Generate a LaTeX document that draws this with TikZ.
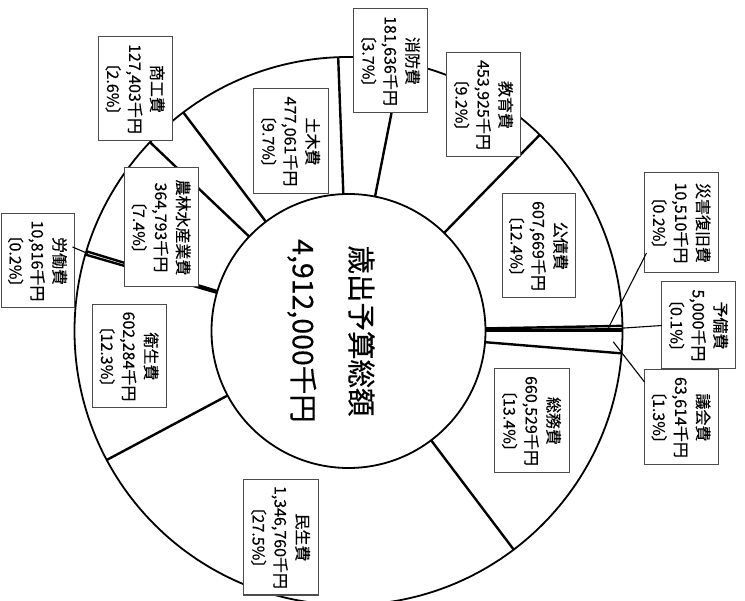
\documentclass[tikz,border=0pt]{standalone}
\usepackage{fontspec}
\setmainfont{Noto Sans CJK JP}[RawFeature={+palt,embolden=0.4}]
\begin{document}
\begin{tikzpicture}[x=1pt,y=-1pt,
  spoke/.style={line width=2.4pt,black},
  ring/.style={line width=1.8pt,black},
  lbl/.style={draw=black!70,line width=1pt,fill=white,rotate=-90,inner sep=0pt,
    align=center,font=\fontsize{16}{22}\selectfont},
  leader/.style={line width=1.1pt,black},
  total/.style={rotate=-90,inner sep=0pt,align=center,font=\fontsize{28.5}{58}\selectfont}]
\useasboundingbox (0,0) rectangle (745,601);
\clip (0,0) rectangle (745,601);
\coordinate (O) at (348.5,331);
% spokes
\foreach \a in {0,4.68,52.92,151.92,196.2,196.92,223.56,232.92,267.84,281.16,314.28,358.92,359.64}
  \draw[spoke] ([shift={(\a:137)}]O) -- ([shift={(\a:274)}]O);
% rings
\node[circle,draw,ring,minimum size=548pt,inner sep=0pt] (outer) at (O) {};
\node[circle,draw,ring,minimum size=274pt,inner sep=0pt] (inner) at (O) {};
\node[total] (tot) at (331,331) {歳出予算総額\\4,912,000千円};
% labels
\node[lbl,minimum width=104pt,minimum height=74pt] (shoko) at (135,89) {商工費\\127,403千円\\〔2.6\%〕};
\node[lbl,minimum width=105pt,minimum height=75pt] (doboku) at (290.5,141.5) {土木費\\477,061千円\\〔9.7\%〕};
\node[lbl,minimum width=104pt,minimum height=74pt] (shobo) at (390.5,61) {消防費\\181,636千円\\〔3.7\%〕};
\node[lbl,minimum width=104pt,minimum height=74pt] (kyoiku) at (483.5,105) {教育費\\453,925千円\\〔9.2\%〕};
\node[lbl,minimum width=104pt,minimum height=73pt] (kosai) at (538.5,246) {公債費\\607,669千円\\〔12.4\%〕};
\node[lbl,minimum width=100pt,minimum height=74pt] (saigai) at (681,223) {災害復旧費\\10,510千円\\〔0.2\%〕};
\node[lbl,minimum width=87pt,minimum height=74pt] (yobi) at (698.5,325.5) {予備費\\5,000千円\\〔0.1\%〕};
\node[lbl,minimum width=95pt,minimum height=74pt] (gikai) at (681,417.5) {議会費\\63,614千円\\〔1.3\%〕};
\node[lbl,minimum width=104pt,minimum height=75pt] (somu) at (531.5,421) {総務費\\660,529千円\\〔13.4\%〕};
\node[lbl,minimum width=115pt,minimum height=75pt] (minsei) at (280.5,537.5) {民生費\\1,346,760千円\\〔27.5\%〕};
\node[lbl,minimum width=103pt,minimum height=74pt] (eisei) at (129,356.5) {衛生費\\602,284千円\\〔12.3\%〕};
\node[lbl,minimum width=94pt,minimum height=73pt] (rodo) at (37.5,261) {労働費\\10,816千円\\〔0.2\%〕};
\node[lbl,minimum width=119pt,minimum height=74pt] (norin) at (161,227.5) {農林水産業費\\364,793千円\\〔7.4\%〕};
% leaders
\draw[leader] ([shift={(-2,-14)}]rodo.north) -- ([shift={(196.56:272)}]O);
\draw[leader] ([shift={(3,30)}]saigai.south) -- ([shift={(359.28:260)}]O);
\draw[leader] ([shift={(1,0)}]yobi.south) -- ([shift={(359.4:274)}]O);
\draw[leader] ([shift={(1,-35.5)}]gikai.south) -- ([shift={(2.34:265)}]O);
\end{tikzpicture}
\end{document}
